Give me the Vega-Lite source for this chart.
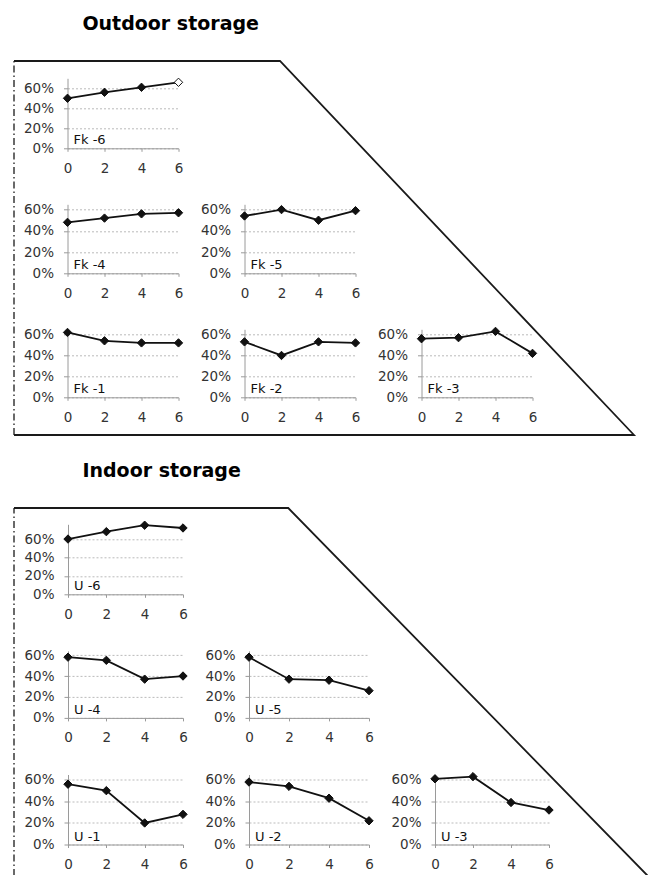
{
  "$schema": "https://vega.github.io/schema/vega-lite/v6.json",
  "background": "white",
  "padding": {"left": 10, "top": 15, "right": 0, "bottom": 0},
  "config": {
    "view": {"stroke": null},
    "font": "DejaVu Sans",
    "axis": {"domainColor": "#9a9a9a", "tickColor": "#9a9a9a", "labelFontSize": 13.5, "labelColor": "#333333", "labelPadding": 10, "labelFlush": false, "labelOverlap": false},
    "axisX": {"tickSize": 3, "grid": false},
    "axisY": {"tickSize": 4, "grid": true, "gridColor": "#aaaaaa", "gridDash": [2, 2], "gridWidth": 0.8}
  },
  "datasets": {
    "obs": [
      {"panel": "Fk -6", "time": 0, "share": 0.50},
      {"panel": "Fk -6", "time": 2, "share": 0.56},
      {"panel": "Fk -6", "time": 4, "share": 0.61},
      {"panel": "Fk -6", "time": 6, "share": 0.66, "estimate": true},
      {"panel": "Fk -4", "time": 0, "share": 0.48},
      {"panel": "Fk -4", "time": 2, "share": 0.52},
      {"panel": "Fk -4", "time": 4, "share": 0.56},
      {"panel": "Fk -4", "time": 6, "share": 0.57},
      {"panel": "Fk -5", "time": 0, "share": 0.54},
      {"panel": "Fk -5", "time": 2, "share": 0.60},
      {"panel": "Fk -5", "time": 4, "share": 0.50},
      {"panel": "Fk -5", "time": 6, "share": 0.59},
      {"panel": "Fk -1", "time": 0, "share": 0.62},
      {"panel": "Fk -1", "time": 2, "share": 0.54},
      {"panel": "Fk -1", "time": 4, "share": 0.52},
      {"panel": "Fk -1", "time": 6, "share": 0.52},
      {"panel": "Fk -2", "time": 0, "share": 0.53},
      {"panel": "Fk -2", "time": 2, "share": 0.40},
      {"panel": "Fk -2", "time": 4, "share": 0.53},
      {"panel": "Fk -2", "time": 6, "share": 0.52},
      {"panel": "Fk -3", "time": 0, "share": 0.56},
      {"panel": "Fk -3", "time": 2, "share": 0.57},
      {"panel": "Fk -3", "time": 4, "share": 0.63},
      {"panel": "Fk -3", "time": 6, "share": 0.42},
      {"panel": "U -6", "time": 0, "share": 0.60},
      {"panel": "U -6", "time": 2, "share": 0.68},
      {"panel": "U -6", "time": 4, "share": 0.75},
      {"panel": "U -6", "time": 6, "share": 0.72},
      {"panel": "U -4", "time": 0, "share": 0.58},
      {"panel": "U -4", "time": 2, "share": 0.55},
      {"panel": "U -4", "time": 4, "share": 0.37},
      {"panel": "U -4", "time": 6, "share": 0.40},
      {"panel": "U -5", "time": 0, "share": 0.58},
      {"panel": "U -5", "time": 2, "share": 0.37},
      {"panel": "U -5", "time": 4, "share": 0.36},
      {"panel": "U -5", "time": 6, "share": 0.26},
      {"panel": "U -1", "time": 0, "share": 0.56},
      {"panel": "U -1", "time": 2, "share": 0.50},
      {"panel": "U -1", "time": 4, "share": 0.20},
      {"panel": "U -1", "time": 6, "share": 0.28},
      {"panel": "U -2", "time": 0, "share": 0.58},
      {"panel": "U -2", "time": 2, "share": 0.54},
      {"panel": "U -2", "time": 4, "share": 0.43},
      {"panel": "U -2", "time": 6, "share": 0.22},
      {"panel": "U -3", "time": 0, "share": 0.61},
      {"panel": "U -3", "time": 2, "share": 0.63},
      {"panel": "U -3", "time": 4, "share": 0.39},
      {"panel": "U -3", "time": 6, "share": 0.32}
    ],
    "frame": [
      {"section": "outdoor", "part": "edge", "seq": 1, "fx": 0, "fy": 1},
      {"section": "outdoor", "part": "edge", "seq": 2, "fx": 0.429, "fy": 1},
      {"section": "outdoor", "part": "edge", "seq": 3, "fx": 1, "fy": 0},
      {"section": "outdoor", "part": "edge", "seq": 4, "fx": 0, "fy": 0},
      {"section": "outdoor", "part": "side", "seq": 1, "fx": 0, "fy": 0},
      {"section": "outdoor", "part": "side", "seq": 2, "fx": 0, "fy": 1},
      {"section": "indoor", "part": "edge", "seq": 1, "fx": 0, "fy": 1},
      {"section": "indoor", "part": "edge", "seq": 2, "fx": 0.4326, "fy": 1},
      {"section": "indoor", "part": "edge", "seq": 3, "fx": 1, "fy": 0},
      {"section": "indoor", "part": "side", "seq": 1, "fx": 0, "fy": 0},
      {"section": "indoor", "part": "side", "seq": 2, "fx": 0, "fy": 1}
    ]
  },
  "spacing": 23,
  "vconcat": [
    {
      "concat": [
        {
          "width": 620, "height": 374,
          "title": {"text": "Outdoor storage", "anchor": "start", "dx": 72, "offset": 23, "fontSize": 19, "fontWeight": "bold", "font": "DejaVu Sans", "color": "#000000"},
          "data": {"name": "frame"},
          "transform": [{"filter": "datum.section === 'outdoor'"}],
          "encoding": {
            "x": {"field": "fx", "type": "quantitative", "scale": {"domain": [0, 1], "nice": false}, "axis": null},
            "y": {"field": "fy", "type": "quantitative", "scale": {"domain": [0, 1], "nice": false}, "axis": null},
            "order": {"field": "seq"}
          },
          "layer": [
            {"transform": [{"filter": "datum.part === 'edge'"}], "mark": {"type": "line", "color": "#1a1a1a", "strokeWidth": 1.8}, "encoding": {}},
            {"transform": [{"filter": "datum.part === 'side'"}], "mark": {"type": "line", "color": "#1a1a1a", "strokeWidth": 1.3, "strokeDash": [7, 3, 1.5, 3]}, "encoding": {}}
          ]
        },
        {
          "hconcat": [
            {"width": 50, "height": 1, "data": {"values": []}, "mark": "point"},
            {
              "columns": 3,
              "spacing": {"row": 56, "column": 66},
              "bounds": "flush",
              "align": "each",
              "concat": [
                {
                  "width": 111, "height": 70,
                  "data": {"name": "obs"},
                  "transform": [{"filter": "datum.panel === 'Fk -6'"}],
                  "encoding": {
                    "x": {"field": "time", "type": "quantitative", "scale": {"domain": [0, 6], "nice": false}, "axis": {"values": [0, 2, 4, 6], "title": null}},
                    "y": {"field": "share", "type": "quantitative", "scale": {"domain": [0, 0.7], "nice": false}, "axis": {"values": [0, 0.2, 0.4, 0.6], "format": ".0%", "title": null}}
                  },
                  "layer": [
                    {"mark": {"type": "line", "color": "#111111", "strokeWidth": 1.8}, "encoding": {}},
                    {"mark": {"type": "point", "shape": "diamond", "size": 70, "filled": true, "opacity": 1, "stroke": "#111111", "strokeWidth": 1}, "encoding": {"fill": {"condition": {"test": "datum.estimate === true", "value": "white"}, "value": "#111111"}}},
                    {"transform": [{"filter": "datum.time === 0"}], "mark": {"type": "text", "align": "left", "baseline": "alphabetic", "dx": 6, "dy": -4, "fontSize": 13, "color": "#111111"}, "encoding": {"x": {"datum": 0}, "y": {"datum": 0}, "text": {"field": "panel"}}}
                  ]
                },
                {"width": 1, "height": 1, "data": {"values": []}, "mark": "point"},
                {"width": 1, "height": 1, "data": {"values": []}, "mark": "point"},
                {
                  "width": 111, "height": 69,
                  "data": {"name": "obs"},
                  "transform": [{"filter": "datum.panel === 'Fk -4'"}],
                  "encoding": {
                    "x": {"field": "time", "type": "quantitative", "scale": {"domain": [0, 6], "nice": false}, "axis": {"values": [0, 2, 4, 6], "title": null}},
                    "y": {"field": "share", "type": "quantitative", "scale": {"domain": [0, 0.65], "nice": false}, "axis": {"values": [0, 0.2, 0.4, 0.6], "format": ".0%", "title": null}}
                  },
                  "layer": [
                    {"mark": {"type": "line", "color": "#111111", "strokeWidth": 1.8}, "encoding": {}},
                    {"mark": {"type": "point", "shape": "diamond", "size": 70, "filled": true, "opacity": 1, "stroke": "#111111", "strokeWidth": 1}, "encoding": {"fill": {"condition": {"test": "datum.estimate === true", "value": "white"}, "value": "#111111"}}},
                    {"transform": [{"filter": "datum.time === 0"}], "mark": {"type": "text", "align": "left", "baseline": "alphabetic", "dx": 6, "dy": -4, "fontSize": 13, "color": "#111111"}, "encoding": {"x": {"datum": 0}, "y": {"datum": 0}, "text": {"field": "panel"}}}
                  ]
                },
                {
                  "width": 111, "height": 69,
                  "data": {"name": "obs"},
                  "transform": [{"filter": "datum.panel === 'Fk -5'"}],
                  "encoding": {
                    "x": {"field": "time", "type": "quantitative", "scale": {"domain": [0, 6], "nice": false}, "axis": {"values": [0, 2, 4, 6], "title": null}},
                    "y": {"field": "share", "type": "quantitative", "scale": {"domain": [0, 0.65], "nice": false}, "axis": {"values": [0, 0.2, 0.4, 0.6], "format": ".0%", "title": null}}
                  },
                  "layer": [
                    {"mark": {"type": "line", "color": "#111111", "strokeWidth": 1.8}, "encoding": {}},
                    {"mark": {"type": "point", "shape": "diamond", "size": 70, "filled": true, "opacity": 1, "stroke": "#111111", "strokeWidth": 1}, "encoding": {"fill": {"condition": {"test": "datum.estimate === true", "value": "white"}, "value": "#111111"}}},
                    {"transform": [{"filter": "datum.time === 0"}], "mark": {"type": "text", "align": "left", "baseline": "alphabetic", "dx": 6, "dy": -4, "fontSize": 13, "color": "#111111"}, "encoding": {"x": {"datum": 0}, "y": {"datum": 0}, "text": {"field": "panel"}}}
                  ]
                },
                {"width": 1, "height": 1, "data": {"values": []}, "mark": "point"},
                {
                  "width": 111, "height": 68,
                  "data": {"name": "obs"},
                  "transform": [{"filter": "datum.panel === 'Fk -1'"}],
                  "encoding": {
                    "x": {"field": "time", "type": "quantitative", "scale": {"domain": [0, 6], "nice": false}, "axis": {"values": [0, 2, 4, 6], "title": null}},
                    "y": {"field": "share", "type": "quantitative", "scale": {"domain": [0, 0.65], "nice": false}, "axis": {"values": [0, 0.2, 0.4, 0.6], "format": ".0%", "title": null}}
                  },
                  "layer": [
                    {"mark": {"type": "line", "color": "#111111", "strokeWidth": 1.8}, "encoding": {}},
                    {"mark": {"type": "point", "shape": "diamond", "size": 70, "filled": true, "opacity": 1, "stroke": "#111111", "strokeWidth": 1}, "encoding": {"fill": {"condition": {"test": "datum.estimate === true", "value": "white"}, "value": "#111111"}}},
                    {"transform": [{"filter": "datum.time === 0"}], "mark": {"type": "text", "align": "left", "baseline": "alphabetic", "dx": 6, "dy": -4, "fontSize": 13, "color": "#111111"}, "encoding": {"x": {"datum": 0}, "y": {"datum": 0}, "text": {"field": "panel"}}}
                  ]
                },
                {
                  "width": 111, "height": 68,
                  "data": {"name": "obs"},
                  "transform": [{"filter": "datum.panel === 'Fk -2'"}],
                  "encoding": {
                    "x": {"field": "time", "type": "quantitative", "scale": {"domain": [0, 6], "nice": false}, "axis": {"values": [0, 2, 4, 6], "title": null}},
                    "y": {"field": "share", "type": "quantitative", "scale": {"domain": [0, 0.65], "nice": false}, "axis": {"values": [0, 0.2, 0.4, 0.6], "format": ".0%", "title": null}}
                  },
                  "layer": [
                    {"mark": {"type": "line", "color": "#111111", "strokeWidth": 1.8}, "encoding": {}},
                    {"mark": {"type": "point", "shape": "diamond", "size": 70, "filled": true, "opacity": 1, "stroke": "#111111", "strokeWidth": 1}, "encoding": {"fill": {"condition": {"test": "datum.estimate === true", "value": "white"}, "value": "#111111"}}},
                    {"transform": [{"filter": "datum.time === 0"}], "mark": {"type": "text", "align": "left", "baseline": "alphabetic", "dx": 6, "dy": -4, "fontSize": 13, "color": "#111111"}, "encoding": {"x": {"datum": 0}, "y": {"datum": 0}, "text": {"field": "panel"}}}
                  ]
                },
                {
                  "width": 111, "height": 68,
                  "data": {"name": "obs"},
                  "transform": [{"filter": "datum.panel === 'Fk -3'"}],
                  "encoding": {
                    "x": {"field": "time", "type": "quantitative", "scale": {"domain": [0, 6], "nice": false}, "axis": {"values": [0, 2, 4, 6], "title": null}},
                    "y": {"field": "share", "type": "quantitative", "scale": {"domain": [0, 0.65], "nice": false}, "axis": {"values": [0, 0.2, 0.4, 0.6], "format": ".0%", "title": null}}
                  },
                  "layer": [
                    {"mark": {"type": "line", "color": "#111111", "strokeWidth": 1.8}, "encoding": {}},
                    {"mark": {"type": "point", "shape": "diamond", "size": 70, "filled": true, "opacity": 1, "stroke": "#111111", "strokeWidth": 1}, "encoding": {"fill": {"condition": {"test": "datum.estimate === true", "value": "white"}, "value": "#111111"}}},
                    {"transform": [{"filter": "datum.time === 0"}], "mark": {"type": "text", "align": "left", "baseline": "alphabetic", "dx": 6, "dy": -4, "fontSize": 13, "color": "#111111"}, "encoding": {"x": {"datum": 0}, "y": {"datum": 0}, "text": {"field": "panel"}}}
                  ]
                }
              ]
            }
          ],
          "spacing": 3.5,
          "bounds": "flush"
        }
      ],
      "columns": 1,
      "spacing": -356.7,
      "bounds": "flush",
      "align": "none"
    },
    {
      "concat": [
        {
          "width": 634, "height": 368,
          "title": {"text": "Indoor storage", "anchor": "start", "dx": 72, "offset": 23, "fontSize": 19, "fontWeight": "bold", "font": "DejaVu Sans", "color": "#000000"},
          "data": {"name": "frame"},
          "transform": [{"filter": "datum.section === 'indoor'"}],
          "encoding": {
            "x": {"field": "fx", "type": "quantitative", "scale": {"domain": [0, 1], "nice": false}, "axis": null},
            "y": {"field": "fy", "type": "quantitative", "scale": {"domain": [0, 1], "nice": false}, "axis": null},
            "order": {"field": "seq"}
          },
          "layer": [
            {"transform": [{"filter": "datum.part === 'edge'"}], "mark": {"type": "line", "color": "#1a1a1a", "strokeWidth": 1.8}, "encoding": {}},
            {"transform": [{"filter": "datum.part === 'side'"}], "mark": {"type": "line", "color": "#1a1a1a", "strokeWidth": 1.3, "strokeDash": [7, 3, 1.5, 3]}, "encoding": {}}
          ]
        },
        {
          "hconcat": [
            {"width": 50, "height": 1, "data": {"values": []}, "mark": "point"},
            {
              "columns": 3,
              "spacing": {"row": 56.6, "column": 66},
              "bounds": "flush",
              "align": "each",
              "concat": [
                {
                  "width": 115, "height": 70,
                  "data": {"name": "obs"},
                  "transform": [{"filter": "datum.panel === 'U -6'"}],
                  "encoding": {
                    "x": {"field": "time", "type": "quantitative", "scale": {"domain": [0, 6], "nice": false}, "axis": {"values": [0, 2, 4, 6], "title": null}},
                    "y": {"field": "share", "type": "quantitative", "scale": {"domain": [0, 0.76], "nice": false}, "axis": {"values": [0, 0.2, 0.4, 0.6], "format": ".0%", "title": null}}
                  },
                  "layer": [
                    {"mark": {"type": "line", "color": "#111111", "strokeWidth": 1.8}, "encoding": {}},
                    {"mark": {"type": "point", "shape": "diamond", "size": 70, "filled": true, "opacity": 1, "stroke": "#111111", "strokeWidth": 1}, "encoding": {"fill": {"condition": {"test": "datum.estimate === true", "value": "white"}, "value": "#111111"}}},
                    {"transform": [{"filter": "datum.time === 0"}], "mark": {"type": "text", "align": "left", "baseline": "alphabetic", "dx": 6, "dy": -4, "fontSize": 13, "color": "#111111"}, "encoding": {"x": {"datum": 0}, "y": {"datum": 0}, "text": {"field": "panel"}}}
                  ]
                },
                {"width": 1, "height": 1, "data": {"values": []}, "mark": "point"},
                {"width": 1, "height": 1, "data": {"values": []}, "mark": "point"},
                {
                  "width": 115, "height": 67,
                  "data": {"name": "obs"},
                  "transform": [{"filter": "datum.panel === 'U -4'"}],
                  "encoding": {
                    "x": {"field": "time", "type": "quantitative", "scale": {"domain": [0, 6], "nice": false}, "axis": {"values": [0, 2, 4, 6], "title": null}},
                    "y": {"field": "share", "type": "quantitative", "scale": {"domain": [0, 0.64], "nice": false}, "axis": {"values": [0, 0.2, 0.4, 0.6], "format": ".0%", "title": null}}
                  },
                  "layer": [
                    {"mark": {"type": "line", "color": "#111111", "strokeWidth": 1.8}, "encoding": {}},
                    {"mark": {"type": "point", "shape": "diamond", "size": 70, "filled": true, "opacity": 1, "stroke": "#111111", "strokeWidth": 1}, "encoding": {"fill": {"condition": {"test": "datum.estimate === true", "value": "white"}, "value": "#111111"}}},
                    {"transform": [{"filter": "datum.time === 0"}], "mark": {"type": "text", "align": "left", "baseline": "alphabetic", "dx": 6, "dy": -4, "fontSize": 13, "color": "#111111"}, "encoding": {"x": {"datum": 0}, "y": {"datum": 0}, "text": {"field": "panel"}}}
                  ]
                },
                {
                  "width": 120, "height": 67,
                  "data": {"name": "obs"},
                  "transform": [{"filter": "datum.panel === 'U -5'"}],
                  "encoding": {
                    "x": {"field": "time", "type": "quantitative", "scale": {"domain": [0, 6], "nice": false}, "axis": {"values": [0, 2, 4, 6], "title": null}},
                    "y": {"field": "share", "type": "quantitative", "scale": {"domain": [0, 0.64], "nice": false}, "axis": {"values": [0, 0.2, 0.4, 0.6], "format": ".0%", "title": null}}
                  },
                  "layer": [
                    {"mark": {"type": "line", "color": "#111111", "strokeWidth": 1.8}, "encoding": {}},
                    {"mark": {"type": "point", "shape": "diamond", "size": 70, "filled": true, "opacity": 1, "stroke": "#111111", "strokeWidth": 1}, "encoding": {"fill": {"condition": {"test": "datum.estimate === true", "value": "white"}, "value": "#111111"}}},
                    {"transform": [{"filter": "datum.time === 0"}], "mark": {"type": "text", "align": "left", "baseline": "alphabetic", "dx": 6, "dy": -4, "fontSize": 13, "color": "#111111"}, "encoding": {"x": {"datum": 0}, "y": {"datum": 0}, "text": {"field": "panel"}}}
                  ]
                },
                {"width": 1, "height": 1, "data": {"values": []}, "mark": "point"},
                {
                  "width": 115, "height": 70,
                  "data": {"name": "obs"},
                  "transform": [{"filter": "datum.panel === 'U -1'"}],
                  "encoding": {
                    "x": {"field": "time", "type": "quantitative", "scale": {"domain": [0, 6], "nice": false}, "axis": {"values": [0, 2, 4, 6], "title": null}},
                    "y": {"field": "share", "type": "quantitative", "scale": {"domain": [0, 0.65], "nice": false}, "axis": {"values": [0, 0.2, 0.4, 0.6], "format": ".0%", "title": null}}
                  },
                  "layer": [
                    {"mark": {"type": "line", "color": "#111111", "strokeWidth": 1.8}, "encoding": {}},
                    {"mark": {"type": "point", "shape": "diamond", "size": 70, "filled": true, "opacity": 1, "stroke": "#111111", "strokeWidth": 1}, "encoding": {"fill": {"condition": {"test": "datum.estimate === true", "value": "white"}, "value": "#111111"}}},
                    {"transform": [{"filter": "datum.time === 0"}], "mark": {"type": "text", "align": "left", "baseline": "alphabetic", "dx": 6, "dy": -4, "fontSize": 13, "color": "#111111"}, "encoding": {"x": {"datum": 0}, "y": {"datum": 0}, "text": {"field": "panel"}}}
                  ]
                },
                {
                  "width": 120, "height": 70,
                  "data": {"name": "obs"},
                  "transform": [{"filter": "datum.panel === 'U -2'"}],
                  "encoding": {
                    "x": {"field": "time", "type": "quantitative", "scale": {"domain": [0, 6], "nice": false}, "axis": {"values": [0, 2, 4, 6], "title": null}},
                    "y": {"field": "share", "type": "quantitative", "scale": {"domain": [0, 0.65], "nice": false}, "axis": {"values": [0, 0.2, 0.4, 0.6], "format": ".0%", "title": null}}
                  },
                  "layer": [
                    {"mark": {"type": "line", "color": "#111111", "strokeWidth": 1.8}, "encoding": {}},
                    {"mark": {"type": "point", "shape": "diamond", "size": 70, "filled": true, "opacity": 1, "stroke": "#111111", "strokeWidth": 1}, "encoding": {"fill": {"condition": {"test": "datum.estimate === true", "value": "white"}, "value": "#111111"}}},
                    {"transform": [{"filter": "datum.time === 0"}], "mark": {"type": "text", "align": "left", "baseline": "alphabetic", "dx": 6, "dy": -4, "fontSize": 13, "color": "#111111"}, "encoding": {"x": {"datum": 0}, "y": {"datum": 0}, "text": {"field": "panel"}}}
                  ]
                },
                {
                  "width": 114, "height": 70,
                  "data": {"name": "obs"},
                  "transform": [{"filter": "datum.panel === 'U -3'"}],
                  "encoding": {
                    "x": {"field": "time", "type": "quantitative", "scale": {"domain": [0, 6], "nice": false}, "axis": {"values": [0, 2, 4, 6], "title": null}},
                    "y": {"field": "share", "type": "quantitative", "scale": {"domain": [0, 0.65], "nice": false}, "axis": {"values": [0, 0.2, 0.4, 0.6], "format": ".0%", "title": null}}
                  },
                  "layer": [
                    {"mark": {"type": "line", "color": "#111111", "strokeWidth": 1.8}, "encoding": {}},
                    {"mark": {"type": "point", "shape": "diamond", "size": 70, "filled": true, "opacity": 1, "stroke": "#111111", "strokeWidth": 1}, "encoding": {"fill": {"condition": {"test": "datum.estimate === true", "value": "white"}, "value": "#111111"}}},
                    {"transform": [{"filter": "datum.time === 0"}], "mark": {"type": "text", "align": "left", "baseline": "alphabetic", "dx": 6, "dy": -4, "fontSize": 13, "color": "#111111"}, "encoding": {"x": {"datum": 0}, "y": {"datum": 0}, "text": {"field": "panel"}}}
                  ]
                }
              ]
            }
          ],
          "spacing": 4,
          "bounds": "flush"
        }
      ],
      "columns": 1,
      "spacing": -351.7,
      "bounds": "flush",
      "align": "none"
    }
  ]
}
